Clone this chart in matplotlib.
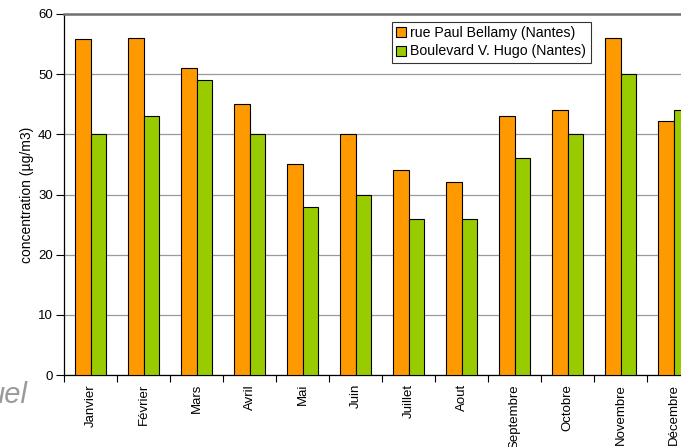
import matplotlib
matplotlib.use("Agg")
import matplotlib.pyplot as plt
import numpy as np

plt.rcParams['font.family'] = ['Liberation Sans', 'DejaVu Sans']

months = ["Janvier", "Février", "Mars", "Avril", "Mai", "Juin", "Juillet",
          "Aout", "Septembre", "Octobre", "Novembre", "Décembre"]
bellamy = [55.8, 56, 51, 45, 35, 40, 34, 32, 43, 44, 56, 42.2]
hugo = [40, 43, 49, 40, 28, 30, 26, 26, 36, 40, 50, 44]
series_labels = ["rue Paul Bellamy (Nantes)", "Boulevard V. Hugo (Nantes)"]
colors = ["#FF9900", "#99CC00"]

W, H = 681, 447
fig = plt.figure(figsize=(W / 100, H / 100), dpi=100)
left, right, top, bottom = 64, 700, 14, 375
ax = fig.add_axes([left / W, 1 - bottom / H, (right - left) / W, (bottom - top) / H])

x = np.arange(len(months))
bw = 0.293
ax.bar(x - bw / 2, bellamy, bw, color=colors[0], edgecolor="black", linewidth=0.8,
       label=series_labels[0], zorder=3)
ax.bar(x + bw / 2, hugo, bw, color=colors[1], edgecolor="black", linewidth=0.8,
       label=series_labels[1], zorder=3)

ax.set_xlim(-0.5, len(months) - 0.5)
ax.set_ylim(0, 60)
ax.set_yticks(range(0, 61, 10))
ax.yaxis.grid(True, color="#9a9a9a", linewidth=0.9, zorder=0)
ax.set_axisbelow(True)

ax.set_xticks(x)
ax.set_xticklabels(months, rotation=90, fontsize=9.5)
ax.set_xticks(np.arange(-0.5, len(months), 1), minor=True)
ax.tick_params(axis="x", which="major", length=0, pad=6.5)
ax.tick_params(axis="x", which="minor", length=5, width=0.8, color="black", direction="out")
ax.tick_params(axis="y", length=6, width=0.8, direction="out", labelsize=9.5, pad=2)

for s in ["left", "bottom"]:
    ax.spines[s].set_color("black")
    ax.spines[s].set_linewidth(0.9)
ax.spines["top"].set_color("#707070")
ax.spines["top"].set_linewidth(1.8)
ax.spines["right"].set_color("#707070")

ax.set_ylabel("concentration (µg/m3)", fontsize=10, labelpad=3)

leg = ax.legend(loc="upper left", bbox_to_anchor=((392 - left) / (right - left), 1 - (22 - top) / (bottom - top)),
                fontsize=10.2, frameon=True, fancybox=False, edgecolor="black",
                handlelength=0.7, handleheight=0.7, handletextpad=0.3,
                borderpad=0.3, labelspacing=0.3, borderaxespad=0)
leg.get_frame().set_linewidth(0.8)

fig.text(28 / W, 1 - 403 / H, "uel", fontsize=21, style="italic", color="#9a9a9a",
         ha="right", va="baseline")

fig.savefig("out.png", dpi=100)
